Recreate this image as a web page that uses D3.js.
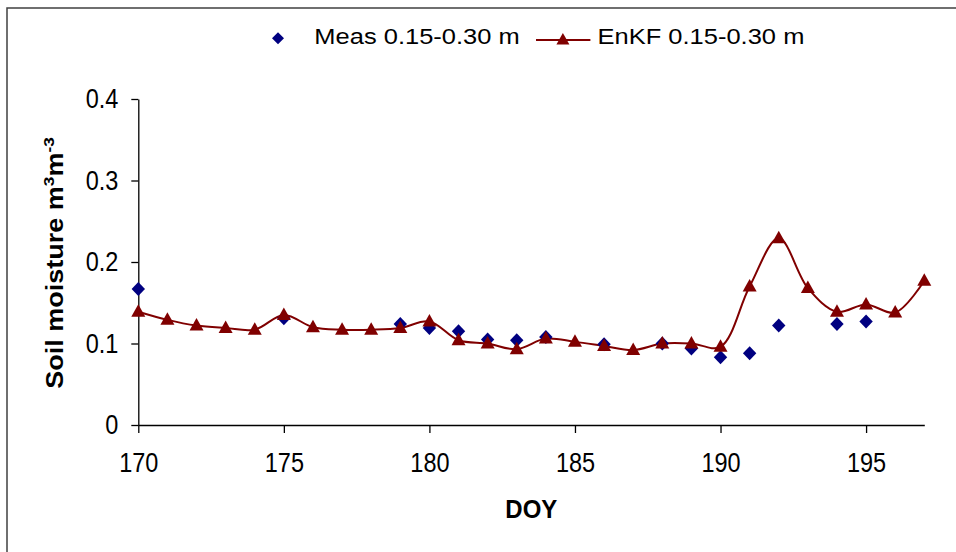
<!DOCTYPE html>
<html><head><meta charset="utf-8">
<script src="https://cdn.jsdelivr.net/npm/d3@7"></script>
<style>body{margin:0;background:#fff}svg{display:block}</style>
</head><body>
<script>
const measDays = [170,175,179,180,181,182,183,184,186,188,189,190,191,192,194,195];
const measVals = [0.167,0.131,0.124,0.119,0.115,0.105,0.104,0.108,0.099,0.100,0.094,0.083,0.088,0.122,0.124,0.127];
const enkfDays = [170,171,172,173,174,175,176,177,178,179,180,181,182,183,184,185,186,187,188,189,190,191,192,193,194,195,196,197];
const enkfVals = [0.139,0.129,0.122,0.119,0.117,0.135,0.120,0.117,0.117,0.119,0.127,0.104,0.100,0.093,0.106,0.102,0.097,0.092,0.100,0.100,0.096,0.170,0.229,0.168,0.139,0.148,0.138,0.177];
const xTicks = [170,175,180,185,190,195];
const yTicks = [0,0.1,0.2,0.3,0.4];
const legendLabels = ["Meas 0.15-0.30 m","EnKF 0.15-0.30 m"];
const xTitle = "DOY";

const W=956,H=552, SY=1.15;
const FONT="'Liberation Sans', Arial, sans-serif";
const svg=d3.select("body").append("svg").attr("width",W).attr("height",H);
svg.append("rect").attr("x",7).attr("y",8).attr("width",1200).attr("height",1200)
  .attr("fill","#fff").attr("stroke","#404040").attr("stroke-width",1.5);

const x=d3.scaleLinear().domain([170,197]).range([138.3,924.3]);
const y=d3.scaleLinear().domain([0,0.4]).range([425,99]);

const gx=svg.append("g").attr("transform",`translate(0,${y(0)})`)
  .call(d3.axisBottom(x).tickValues(xTicks).tickSize(8).tickSizeOuter(0).tickFormat(d3.format("d")));
gx.selectAll("text").attr("y",null).attr("dy",null)
  .attr("transform",`translate(0,46.7) scale(1,${SY})`)
  .attr("font-size",23.5).attr("font-family",FONT).attr("fill","#000");
const gy=svg.append("g").attr("transform",`translate(${x(170)},0)`)
  .call(d3.axisLeft(y).tickValues(yTicks).tickSize(7).tickSizeOuter(0).tickFormat(d=>d===0?"0":d3.format(".1f")(d)));
gy.selectAll("text").attr("x",null).attr("dy",null)
  .attr("transform",`translate(-20,8.5) scale(1,${SY})`)
  .attr("font-size",23.5).attr("font-family",FONT).attr("fill","#000");
svg.selectAll(".domain, .tick line").attr("stroke","#000").attr("stroke-width",1.3);

// EnKF line
const enkf=enkfDays.map((d,i)=>[d,enkfVals[i]]);
const meas=measDays.map((d,i)=>[d,measVals[i]]);
svg.append("path").datum(enkf)
  .attr("d",d3.line().x(d=>x(d[0])).y(d=>y(d[1])).curve(d3.curveCatmullRom.alpha(0.5)))
  .attr("fill","none").attr("stroke","#800000").attr("stroke-width",2);

const diamond="M0,-7L6.7,0L0,7L-6.7,0Z";
const tri="M0,-7.5L7,5L-7,5Z";
svg.append("g").selectAll("path").data(meas).join("path")
  .attr("d",diamond).attr("transform",d=>`translate(${x(d[0])},${y(d[1])})`).attr("fill","#000080");
svg.append("g").selectAll("path").data(enkf).join("path")
  .attr("d",tri).attr("transform",d=>`translate(${x(d[0])},${y(d[1])})`).attr("fill","#800000");

// Legend
const lg=svg.append("g");
lg.append("path").attr("d","M0,-6L6,0L0,6L-6,0Z").attr("transform","translate(278,38.2)").attr("fill","#000080");
lg.append("text").attr("transform","translate(314.3,43.6) scale(1,0.9)").attr("font-size",25.5).attr("font-family",FONT).text(legendLabels[0]);
lg.append("line").attr("x1",536).attr("x2",590.4).attr("y1",40).attr("y2",40).attr("stroke","#800000").attr("stroke-width",2);
lg.append("path").attr("d","M0,-7L6.5,4.5L-6.5,4.5Z").attr("transform","translate(562.9,40)").attr("fill","#800000");
lg.append("text").attr("transform","translate(597.5,43.6) scale(1,0.9)").attr("font-size",25.5).attr("font-family",FONT).text(legendLabels[1]);

// Axis titles
svg.append("text").attr("transform",`translate(${(x(170)+x(197))/2},518.3) scale(1,1.1)`)
  .attr("text-anchor","middle").attr("font-size",24).attr("font-weight","bold").attr("font-family",FONT).text(xTitle);
const yt=svg.append("text").attr("transform",`translate(63,263) rotate(-90) scale(${SY},1)`)
  .attr("text-anchor","middle").attr("font-size",23.5).attr("font-weight","bold").attr("font-family",FONT);
yt.append("tspan").text("Soil moisture m");
yt.append("tspan").attr("dy",-9).attr("font-size",15).text("3");
yt.append("tspan").attr("dy",9).text("m");
yt.append("tspan").attr("dy",-9).attr("font-size",15).text("-3");
</script>
</body></html>
